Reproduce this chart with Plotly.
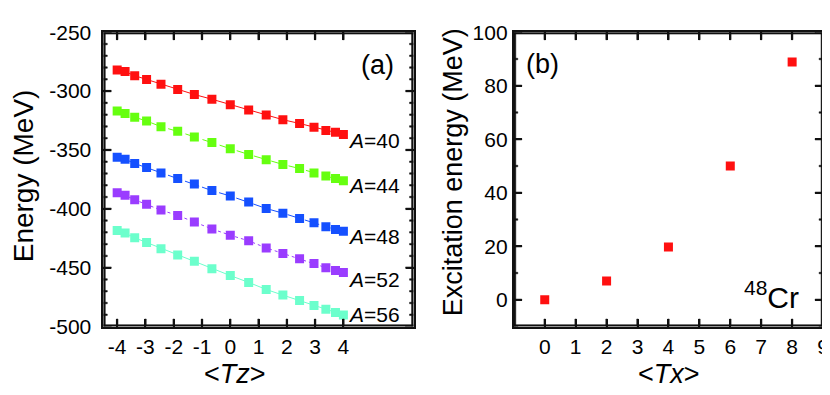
import plotly.graph_objects as go

# ---- data ----
tz = [-4.0, -3.72, -3.38, -2.96, -2.45, -1.86, -1.27, -0.65, 0.0,
      0.65, 1.27, 1.86, 2.45, 2.96, 3.38, 3.72, 4.0]

energy_a40 = [-282.1, -283.4, -286.9, -290.1, -294.1, -298.6, -302.9, -306.9, -311.5,
              -316.0, -320.3, -324.3, -327.5, -330.7, -333.4, -335.0, -336.8]
energy_a44 = [-316.9, -319.0, -322.2, -325.4, -330.2, -334.2, -339.0, -343.6, -348.9,
              -353.8, -358.3, -362.3, -365.8, -369.5, -372.2, -374.3, -376.2]
energy_a48 = [-356.2, -357.8, -361.5, -365.0, -369.5, -374.3, -378.9, -384.5, -389.1,
              -394.3, -399.7, -403.7, -408.3, -411.8, -415.2, -417.6, -419.0]
energy_a52 = [-386.3, -388.5, -392.3, -396.1, -401.1, -405.6, -411.2, -417.1, -422.4,
              -427.2, -433.2, -438.0, -442.5, -446.5, -450.0, -452.4, -454.0]
energy_a56 = [-418.4, -420.6, -424.6, -428.6, -434.0, -439.3, -444.6, -451.0, -456.7,
              -462.5, -468.5, -473.3, -477.8, -482.1, -485.3, -488.0, -490.1]

series_names = ["A=40", "A=44", "A=48", "A=52", "A=56"]
series_values = [energy_a40, energy_a44, energy_a48, energy_a52, energy_a56]

tx = [0, 2, 4, 6, 8]
excitation = [0.0, 7.0, 19.7, 50.0, 88.9]

tz_ticks = [-4, -3, -2, -1, 0, 1, 2, 3, 4]
tz_ticktext = ["-4", "-3", "-2", "-1", "0", "1", "2", "3", "4"]
energy_ticks = [-500, -450, -400, -350, -300, -250]
energy_ticktext = ["-500", "-450", "-400", "-350", "-300", "-250"]
energy_minor = [-490, -480, -470, -460, -440, -430, -420, -410, -390, -380, -370, -360,
                -340, -330, -320, -310, -290, -280, -270, -260]
tx_ticks = [0, 1, 2, 3, 4, 5, 6, 7, 8, 9]
exc_ticks = [0, 20, 40, 60, 80, 100]
exc_minor = [-10, 10, 30, 50, 70, 90]

# ---- style ----
W, H = 830, 395
FONT = "Liberation Sans, Arial, sans-serif"
INK = "#111111"
colors = ["#ff1010", "#66ff10", "#1550ff", "#9a3cff", "#6cffcc"]
dashes = ["solid", "dash", "dashdot", "dot", "solid"]

PLOT_TOP, PLOT_BOT = 13, 325.5
LEFT_X = (96, 408.5)
RIGHT_X = (509.5, 821)
XR1, YR1 = (-4.49, 6.48), (-500, -250)
XR2, YR2 = (-1, 9), (-10, 100)
MAJOR_LEN, MINOR_LEN = 8, 4
FRAME_W, TICK_W = 2, 1.6


def px(x):
    return x / W


def py(y):
    return 1 - y / H


fig = go.Figure()

for name, vals, c, d in zip(series_names, series_values, colors, dashes):
    fig.add_trace(go.Scatter(
        x=tz, y=vals, mode="lines+markers", name=name,
        line=dict(color=c, width=1, dash=d),
        marker=dict(symbol="square", size=9, color=c),
        xaxis="x", yaxis="y", showlegend=False,
    ))

fig.add_trace(go.Scatter(
    x=tx, y=excitation, mode="markers",
    marker=dict(symbol="square", size=9, color="#ff1010"),
    xaxis="x2", yaxis="y2", showlegend=False,
))


# frame + tick marks as thin filled bars on each panel's own axes
def frame_trace(xa, ya, xr, yr, pw, xt, ymaj, ymin):
    ph = PLOT_BOT - PLOT_TOP
    dy = (yr[1] - yr[0]) / ph
    dx = (xr[1] - xr[0]) / pw
    xs, ys = [], []

    def bar(x0, x1, y0, y1):
        xs.extend([x0, x1, x1, x0, x0, None])
        ys.extend([y0, y0, y1, y1, y0, None])

    fw_x, fw_y = FRAME_W * dx, FRAME_W * dy
    bar(xr[0], xr[1], yr[0], yr[0] + fw_y)
    bar(xr[0], xr[1], yr[1] - fw_y, yr[1])
    bar(xr[0], xr[0] + fw_x, yr[0], yr[1])
    bar(xr[1] - fw_x, xr[1], yr[0], yr[1])
    hx, hy = TICK_W / 2 * dx, TICK_W / 2 * dy
    for t in xt:
        bar(t - hx, t + hx, yr[0], yr[0] + MAJOR_LEN * dy)
        bar(t - hx, t + hx, yr[1] - MAJOR_LEN * dy, yr[1])
    for vals, ln in [(ymaj, MAJOR_LEN), (ymin, MINOR_LEN)]:
        for t in vals:
            bar(xr[0], xr[0] + ln * dx, t - hy, t + hy)
            bar(xr[1] - ln * dx, xr[1], t - hy, t + hy)
    return go.Scatter(x=xs, y=ys, mode="lines", fill="toself", fillcolor=INK,
                      line=dict(color=INK, width=0.5),
                      xaxis=xa, yaxis=ya, showlegend=False, hoverinfo="skip")


fig.add_trace(frame_trace("x", "y", XR1, YR1, LEFT_X[1] - LEFT_X[0],
                          tz_ticks, energy_ticks, energy_minor))
fig.add_trace(frame_trace("x2", "y2", XR2, YR2, RIGHT_X[1] - RIGHT_X[0],
                          tx_ticks, exc_ticks, exc_minor))

ydom = [py(PLOT_BOT), py(PLOT_TOP)]
tickfont = dict(family=FONT, size=21, color="black")
base = dict(showline=True, linecolor=INK, linewidth=2, mirror="ticks",
            ticks="inside", ticklen=MAJOR_LEN, tickwidth=2, tickcolor=INK,
            showgrid=False, zeroline=False, tickfont=tickfont, tickmode="array")

fig.update_layout(
    width=W, height=H,
    margin=dict(l=0, r=0, t=0, b=0),
    paper_bgcolor="white", plot_bgcolor="white",
    font=dict(family=FONT, color="black"),
    xaxis=dict(domain=[px(LEFT_X[0]), px(LEFT_X[1])], range=list(XR1), anchor="y",
               tickvals=tz_ticks, ticktext=tz_ticktext, **base),
    yaxis=dict(domain=ydom, range=list(YR1), anchor="x",
               tickvals=energy_ticks, ticktext=[t + "\u00a0" for t in energy_ticktext],
               **base),
    xaxis2=dict(domain=[px(RIGHT_X[0]), px(RIGHT_X[1])], range=list(XR2), anchor="y2",
                tickvals=tx_ticks, **base),
    yaxis2=dict(domain=ydom, range=list(YR2), anchor="x2",
                tickvals=exc_ticks, **base),
)

ann = []
# axis titles
ann.append(dict(text="Energy (MeV)", x=px(16), y=py(165), textangle=-90,
                font=dict(size=28)))
ann.append(dict(text="Excitation energy (MeV)", x=px(448), y=py(162), textangle=-90,
                font=dict(size=27)))
ann.append(dict(text="&lt;<i>Tz</i>&gt;", x=px(229), y=py(376), font=dict(size=27)))
ann.append(dict(text="&lt;<i>Tx</i>&gt;", x=px(666), y=py(376), font=dict(size=27)))
# panel labels
ann.append(dict(text="(a)", x=px(372), y=py(48), font=dict(size=27)))
ann.append(dict(text="(b)", x=px(538), y=py(47), font=dict(size=27)))
# series labels
label_y = [128, 176, 230, 276, 313]
for name, yy in zip(series_names, label_y):
    ann.append(dict(text="<i>A</i>" + name[1:], x=px(340), y=py(yy), xanchor="left",
                    font=dict(size=21)))
ann.append(dict(text="<sup>48</sup>Cr", x=px(799), y=py(292), xanchor="right",
                font=dict(size=30)))

for a in ann:
    a.update(xref="paper", yref="paper", showarrow=False)
    a.setdefault("xanchor", "center")
    a.setdefault("yanchor", "middle")
    a["font"].update(family=FONT, color="black")
fig.update_layout(annotations=ann)

fig.write_html("out.html")
